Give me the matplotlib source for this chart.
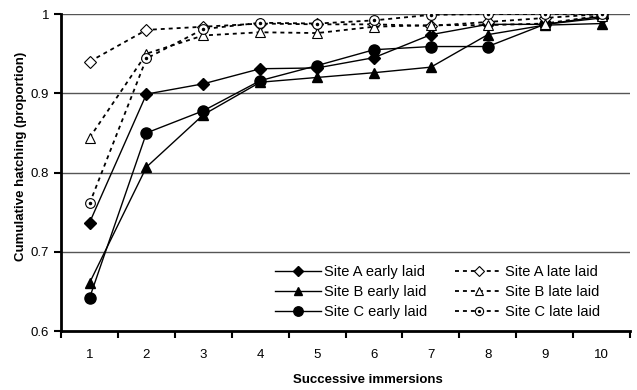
import numpy as np
import matplotlib.pyplot as plt
from matplotlib.legend_handler import HandlerTuple

plt.rcParams['font.family'] = ['Liberation Sans', 'DejaVu Sans']

immersions = [1, 2, 3, 4, 5, 6, 7, 8, 9, 10]

a_early = [0.737, 0.899, 0.912, 0.931, 0.932, 0.945, 0.974, 0.987, 0.987, 0.995]
b_early = [0.661, 0.807, 0.873, 0.914, 0.920, 0.926, 0.933, 0.974, 0.986, 0.988]
c_early = [0.642, 0.850, 0.878, 0.916, 0.935, 0.955, 0.959, 0.959, 0.987, 0.997]

a_late = [0.940, 0.980, 0.984, 0.988, 0.987, 0.987, 0.985, 0.990, 0.995, 1.000]
b_late = [0.844, 0.950, 0.973, 0.977, 0.976, 0.984, 0.986, 0.986, 0.988, 0.998]
c_late = [0.761, 0.944, 0.981, 0.989, 0.988, 0.992, 0.999, 1.000, 1.000, 1.000]

fig = plt.figure(figsize=(6.37, 3.9), dpi=100)
ax = fig.add_axes([0.096, 0.151, 0.893, 0.813])

x = np.array(immersions)

# gridlines
for g in [0.7, 0.8, 0.9, 1.0]:
    ax.axhline(g, color='#555555', lw=1.0, zorder=0)

dash = (0, (2.2, 2.2))
l1, = ax.plot(x, a_early, color='black', lw=1, marker='D', ms=6, mfc='black', mec='black')
l2, = ax.plot(x, b_early, color='black', lw=1, marker='^', ms=6.5, mfc='black', mec='black')
l3, = ax.plot(x, c_early, color='black', lw=1, marker='o', ms=8, mfc='black', mec='black')

l4, = ax.plot(x, a_late, color='black', lw=1.3, ls=dash, marker='D', ms=6, mfc='white', mec='black', mew=0.8)
l5, = ax.plot(x, b_late, color='black', lw=1.3, ls=dash, marker='^', ms=6.5, mfc='white', mec='black', mew=0.8)
l6, = ax.plot(x, c_late, color='black', lw=1.3, ls=dash, marker='o', ms=7, mfc='white', mec='black', mew=0.8)
d6, = ax.plot(x, c_late, ls='none', marker='o', ms=1.5, color='black')

ax.set_xlim(0.5, 10.5)
ax.set_ylim(0.6, 1.0)
ax.set_yticks([0.6, 0.7, 0.8, 0.9, 1.0])
ax.set_yticklabels(['0.6', '0.7', '0.8', '0.9', '1'])
ax.set_xticks(immersions)
ax.set_xticks(np.arange(0.5, 11, 1), minor=True)
ax.tick_params(axis='x', which='major', length=0, pad=13, labelsize=9.5)
ax.tick_params(axis='x', which='minor', length=5, width=1.5, direction='out')
ax.tick_params(axis='y', length=5, width=1.5, direction='out', labelsize=9.5)

for s in ['top', 'right']:
    ax.spines[s].set_visible(False)
ax.spines['left'].set_linewidth(2)
ax.spines['bottom'].set_linewidth(2)

ax.set_xlabel('Successive immersions', fontsize=9.5, fontweight='bold')
ax.set_ylabel('Cumulative hatching (proportion)', fontsize=9.5, fontweight='bold')
ax.xaxis.set_label_coords(0.54, -0.135)
ax.yaxis.set_label_coords(-0.06, 0.55)

ax.legend([l1, l2, l3, l4, l5, (l6, d6)],
          ['Site A early laid', 'Site B early laid', 'Site C early laid',
           'Site A late laid', 'Site B late laid', 'Site C late laid'],
          handler_map={tuple: HandlerTuple(ndivide=1, pad=0)},
          ncol=2, loc='lower right', bbox_to_anchor=(0.965, 0.005),
          frameon=False, fontsize=10.5, handlelength=3.2, handletextpad=0.2,
          columnspacing=1.9, labelspacing=0.42, borderpad=0.2, markerscale=0.85)

fig.savefig('out.png', dpi=100)
